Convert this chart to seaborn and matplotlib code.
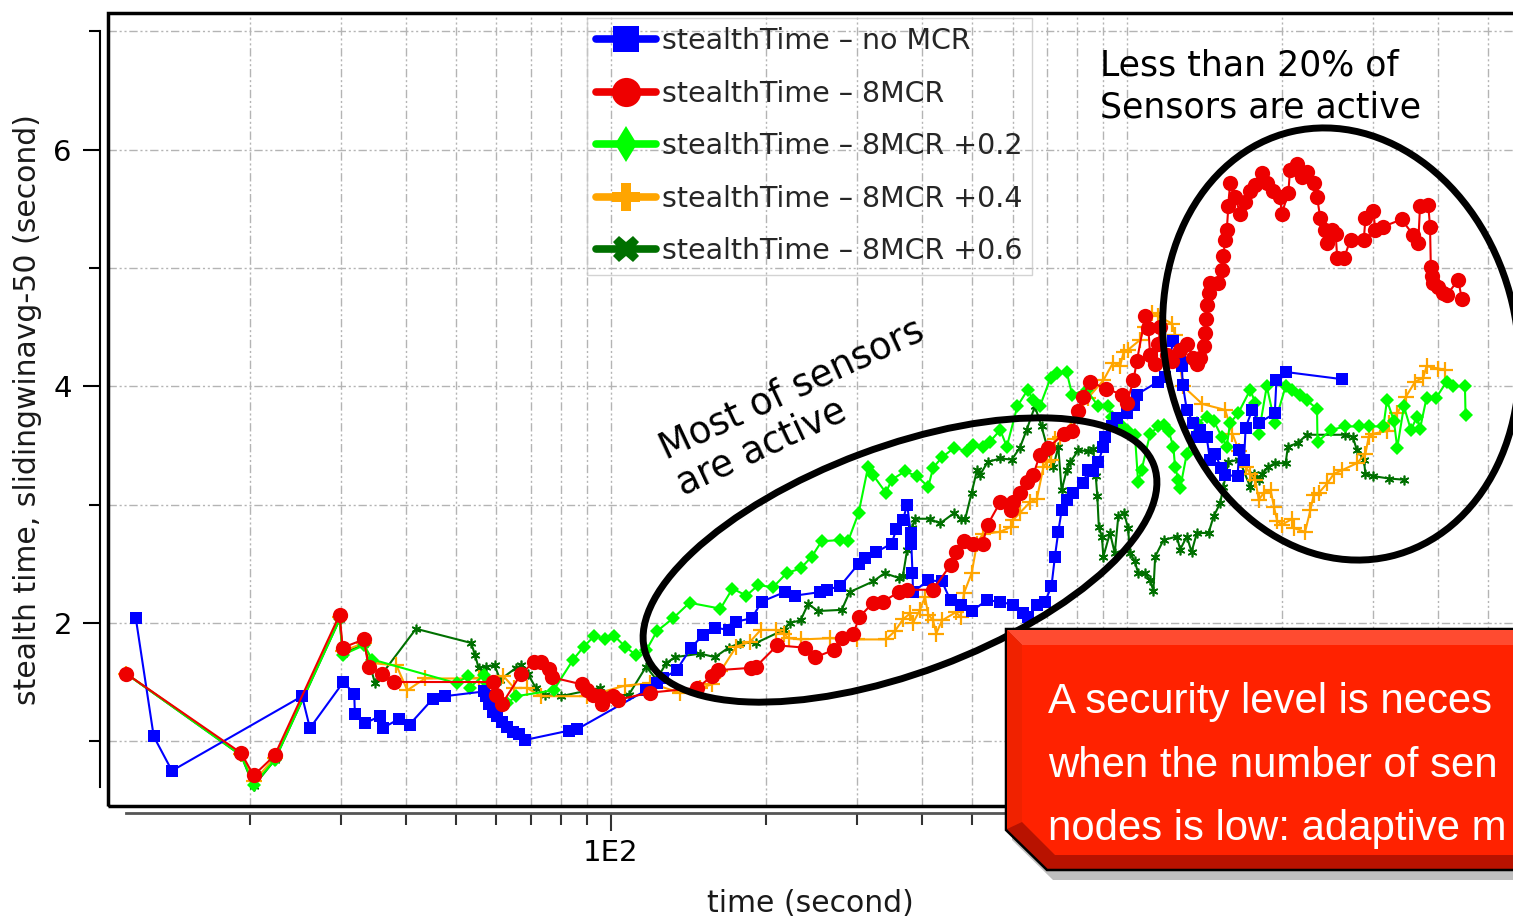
import numpy as np
import matplotlib
matplotlib.use("Agg")
import matplotlib.pyplot as plt
import seaborn as sns
from matplotlib.lines import Line2D
from matplotlib.patches import Ellipse, Polygon, Rectangle
from matplotlib.ticker import FixedLocator, FixedFormatter, NullFormatter

# ---------------- data (time in seconds, stealth time in seconds) ----------------
t_blue = [12.0, 13.0, 14.1, 25.2, 26.1, 30.3, 31.8, 31.9, 33.3, 35.6, 36.1, 38.9, 40.7, 45.2, 47.6,
          56.7, 57.3, 58.1, 59.1, 60.1, 61.6, 62.9, 64.5, 66.2, 68.1, 83.1, 85.9, 117, 123, 126, 134,
          143, 151, 159, 169, 175, 187.5, 196, 217, 227, 254, 262, 278, 302, 311, 327, 350, 357, 368,
          375, 381, 382, 384, 385, 412, 438, 455, 476, 500, 535, 568, 602, 628, 642, 669, 694, 714,
          725, 736, 747, 764, 787, 822, 841, 860, 880, 900, 907, 935, 956, 1000, 1030, 1045, 1150,
          1185, 1230, 1268, 1277, 1283, 1306, 1345, 1366, 1386, 1427, 1448, 1480, 1524, 1546, 1638,
          1650, 1686, 1698, 1748, 1800, 1934, 1948, 2035, 2610]
v_blue = [2.04, 1.04, 0.75, 1.38, 1.11, 1.50, 1.40, 1.23, 1.15, 1.21, 1.11, 1.19, 1.14, 1.36, 1.38,
          1.42, 1.38, 1.31, 1.25, 1.21, 1.16, 1.12, 1.08, 1.06, 1.01, 1.09, 1.10, 1.43, 1.49, 1.53, 1.60,
          1.79, 1.90, 1.96, 1.94, 2.01, 2.04, 2.18, 2.26, 2.23, 2.26, 2.28, 2.31, 2.50, 2.55, 2.60, 2.67,
          2.79, 2.87, 3.00, 2.76, 2.67, 2.42, 2.26, 2.36, 2.35, 2.19, 2.15, 2.10, 2.19, 2.18, 2.15, 2.08,
          2.05, 2.15, 2.18, 2.31, 2.56, 2.77, 2.95, 3.04, 3.10, 3.18, 3.29, 3.28, 3.36, 3.49, 3.57, 3.66,
          3.73, 3.77, 3.84, 3.93, 4.04, 4.08, 4.38, 4.26, 4.17, 4.01, 3.80, 3.69, 3.57, 3.63, 3.57, 3.38,
          3.43, 3.31, 3.25, 3.24, 3.46, 3.38, 3.65, 3.80, 3.69, 3.77, 4.05, 4.12, 4.06]

t_red = [11.5, 19.2, 20.3, 22.3, 29.8, 30.2, 33.2, 33.9, 36.0, 37.9, 59.2, 59.9, 61.4, 67.0, 70.9,
         73.2, 76.0, 76.8, 87.8, 90, 92.2, 95.2, 96, 100.7, 103, 119, 147, 157, 161, 187, 191, 210,
         238, 249, 270, 280, 295, 303, 322, 337, 361, 375, 421, 455, 466, 483, 502, 525, 537, 568,
         595, 602, 620, 639, 658, 678, 704, 755, 783, 805, 822, 846, 910, 977, 1000, 1029, 1045,
         1084, 1100, 1109, 1134, 1151, 1160, 1195, 1223, 1269, 1306, 1345, 1366, 1386, 1407, 1418,
         1424, 1429, 1439, 1450, 1504, 1527, 1538, 1549, 1561, 1572, 1584, 1620, 1657, 1694, 1733,
         1773, 1826, 1866, 1922, 1980, 1995, 2054, 2070, 2133, 2182, 2232, 2300, 2335, 2370, 2425,
         2444, 2500, 2537, 2556, 2632, 2712, 2877, 2898, 3004, 3027, 3140, 3405, 3586, 3668, 3697,
         3836, 3866, 3880, 3894, 3923, 4011, 4102, 4165, 4386, 4453]
v_red = [1.57, 0.90, 0.71, 0.88, 2.07, 1.79, 1.86, 1.63, 1.57, 1.50, 1.50, 1.39, 1.31, 1.57, 1.67,
         1.67, 1.61, 1.54, 1.48, 1.43, 1.39, 1.38, 1.31, 1.38, 1.35, 1.41, 1.45, 1.55, 1.60, 1.62, 1.63, 1.81,
         1.79, 1.71, 1.77, 1.87, 1.91, 2.05, 2.17, 2.18, 2.26, 2.28, 2.28, 2.49, 2.60, 2.69, 2.67, 2.67, 2.83, 3.02,
         2.95, 3.02, 3.10, 3.19, 3.25, 3.42, 3.48, 3.60, 3.62, 3.79, 3.91, 4.04, 3.98, 3.93, 3.86, 4.05, 4.21,
         4.59, 4.49, 4.26, 4.19, 4.36, 4.50, 4.26, 4.21, 4.31, 4.36, 4.24, 4.19, 4.24, 4.34, 4.45,
         4.57, 4.69, 4.79, 4.87, 4.87, 4.98, 5.10, 5.24, 5.32, 5.52, 5.72, 5.60, 5.46, 5.56, 5.65,
         5.70, 5.80, 5.72, 5.65, 5.60, 5.46, 5.63, 5.83, 5.88, 5.77, 5.81, 5.72, 5.60, 5.42, 5.32,
         5.21, 5.32, 5.29, 5.08, 5.08, 5.24, 5.24, 5.42, 5.48, 5.32, 5.35, 5.41, 5.28, 5.21, 5.52,
         5.53, 5.35, 5.01, 4.93, 4.87, 4.84, 4.79, 4.77, 4.90, 4.74]

t_green = [11.5, 19.2, 20.3, 22.3, 29.8, 30.2, 33.2, 34.5, 50.2, 52.8, 53.2, 56.7, 57.6, 62.9, 65.5,
           77.4, 84.5, 88.6, 92.9, 97.5, 101.5, 106.5, 111.6, 117.1, 122.8, 132, 142, 163, 172, 183,
           193, 206, 219, 233, 245, 256, 278, 288, 302, 315, 322, 341, 350, 371, 392, 412, 421, 438,
           463, 490, 502, 525, 542, 568, 585, 613, 642, 658, 678, 711, 732, 764, 783, 835, 880, 920,
           935, 977, 1006, 1036, 1051, 1067, 1109, 1151, 1177, 1204, 1230, 1239, 1258, 1268, 1306,
           1366, 1428, 1472, 1527, 1561, 1584, 1642, 1733, 1773, 1800, 1866, 1934, 2030, 2092, 2163,
           2230, 2335, 2340, 2484, 2643, 2810, 2940, 3140, 3190, 3290, 3340, 3441, 3550, 3645, 3697,
           3806, 3970, 4165, 4290, 4518, 4530]
v_green = [1.57, 0.88, 0.63, 0.84, 2.03, 1.73, 1.81, 1.69, 1.49, 1.55, 1.45, 1.56, 1.49, 1.32, 1.38,
           1.43, 1.69, 1.80, 1.89, 1.86, 1.89, 1.80, 1.73, 1.77, 1.93, 2.04, 2.17, 2.12, 2.29, 2.23,
           2.32, 2.30, 2.42, 2.46, 2.56, 2.69, 2.70, 2.69, 2.93, 3.32, 3.25, 3.10, 3.21, 3.28, 3.24,
           3.15, 3.31, 3.40, 3.48, 3.45, 3.50, 3.49, 3.53, 3.63, 3.49, 3.83, 3.97, 3.88, 3.83, 4.07,
           4.11, 4.12, 3.93, 3.97, 3.83, 3.83, 3.74, 3.66, 3.62, 3.59, 3.19, 3.29, 3.60, 3.66, 3.67,
           3.62, 3.49, 3.32, 3.21, 3.14, 3.43, 3.69, 3.74, 3.71, 3.57, 3.49, 3.69, 3.77, 3.97, 3.86,
           3.60, 4.00, 3.69, 4.00, 3.97, 3.93, 3.88, 3.81, 3.53, 3.63, 3.66, 3.66, 3.66, 3.66, 3.88,
           3.71, 3.48, 3.83, 3.63, 3.74, 3.64, 3.90, 3.90, 4.04, 4.00, 4.00, 3.76]

t_orange = [11.5, 19.2, 20.3, 22.3, 29.8, 30.2, 33.2, 34.5, 38.4, 40.3, 43.6, 55.4, 61.9, 64.9, 68.7,
            73.2, 90, 106.5, 119, 136, 149, 157, 163, 175, 186, 195, 209, 216, 221, 233, 266, 300,
            341, 355, 368, 380, 385, 397, 406, 412, 421, 427, 438, 466, 476, 483, 500, 512, 525, 568,
            595, 602, 620, 649, 669, 689, 700, 711, 725, 742, 790, 840, 900, 940, 970, 985, 1006,
            1059, 1084, 1120, 1151, 1223, 1239, 1285, 1400, 1550, 1600, 1650, 1698, 1733, 1773,
            1800, 1842, 1899, 1927, 1955, 1996, 2092, 2107, 2214, 2266, 2300, 2355, 2444, 2518, 2610,
            2790, 2898, 2940, 3004, 3190, 3213, 3340, 3471, 3618, 3751, 3806, 4011, 4134]
v_orange = [1.57, 0.89, 0.66, 0.86, 2.05, 1.76, 1.83, 1.66, 1.64, 1.43, 1.53, 1.53, 1.55, 1.45, 1.45,
            1.38, 1.38, 1.47, 1.49, 1.41, 1.45, 1.48, 1.59, 1.80, 1.84, 1.94, 1.94, 1.91, 1.87, 1.86,
            1.87, 1.86, 1.86, 1.93, 2.03, 2.08, 2.00, 2.11, 2.22, 2.07, 2.02, 1.91, 2.02, 2.09, 2.05,
            2.25, 2.42, 2.67, 2.75, 2.77, 2.81, 2.87, 2.93, 3.02, 3.05, 3.32, 3.36, 3.38, 3.55, 3.57,
            3.72, 3.90, 4.05, 4.20, 4.17, 4.29, 4.31, 4.39, 4.50, 4.62, 4.59, 4.53, 4.43, 4.00, 3.85,
            3.80, 3.60, 3.45, 3.32, 3.26, 3.21, 3.04, 3.10, 3.12, 2.98, 2.86, 2.83, 2.88, 2.80, 2.77,
            2.95, 3.08, 3.10, 3.18, 3.26, 3.29, 3.35, 3.43, 3.57, 3.60, 3.62, 3.69, 3.77, 3.91, 4.04,
            4.07, 4.17, 4.15, 4.14]

t_dkgreen = [11.5, 19.2, 20.3, 22.3, 29.8, 30.2, 33.2, 34.9, 41.9, 53.6, 54.5, 55.4, 57.2, 59.5, 61,
             65.5, 67, 69, 71.5, 74.4, 79.9, 95.2, 100.7, 108.2, 117, 122.5, 128, 133, 149, 159, 169,
             178, 191, 216, 222, 233, 241, 252, 280, 290, 322, 339, 361, 368, 375, 383, 389, 415, 434,
             463, 476, 486, 500, 512, 519, 537, 568, 598, 620, 639, 663, 683, 704, 720, 736, 747, 764,
             777, 805, 840, 860, 870, 876, 882, 894, 900, 927, 947, 962, 987, 1005, 1013, 1036, 1051,
             1084, 1109, 1125, 1134, 1177, 1249, 1268, 1306, 1334, 1366, 1439, 1472, 1515, 1538, 1572,
             1650, 1733, 1760, 1800, 1828, 1880, 1934, 2030, 2050, 2143, 2230, 2650, 2740, 2790, 2877,
             2898, 3004, 3222, 3441]
v_dkgreen = [1.57, 0.88, 0.62, 0.84, 2.03, 1.74, 1.82, 1.49, 1.95, 1.83, 1.73, 1.62, 1.63, 1.64, 1.52,
             1.62, 1.64, 1.57, 1.45, 1.39, 1.38, 1.45, 1.39, 1.39, 1.63, 1.52, 1.66, 1.71, 1.74, 1.71, 1.79,
             1.83, 1.83, 1.94, 2.00, 2.02, 2.16, 2.10, 2.11, 2.26, 2.35, 2.42, 2.38, 2.40, 2.62, 2.80, 2.88,
             2.88, 2.84, 2.93, 2.88, 2.88, 3.10, 3.29, 3.25, 3.36, 3.39, 3.38, 3.48, 3.63, 3.83, 3.66, 3.45,
             3.32, 3.49, 3.12, 3.29, 3.36, 3.46, 3.45, 3.47, 3.24, 3.07, 2.81, 2.73, 2.56, 2.76, 2.59, 2.90,
             2.93, 2.80, 2.59, 2.52, 2.42, 2.42, 2.36, 2.27, 2.56, 2.70, 2.73, 2.62, 2.73, 2.60, 2.76, 2.76,
             2.90, 3.01, 3.15, 3.36, 3.38, 3.15, 3.26, 3.21, 3.26, 3.32, 3.35, 3.35, 3.49, 3.52, 3.59, 3.59,
             3.57, 3.46, 3.38, 3.26, 3.24, 3.22, 3.21]

labels = ["stealthTime \u2013 no MCR", "stealthTime \u2013 8MCR", "stealthTime \u2013 8MCR +0.2",
          "stealthTime \u2013 8MCR +0.4", "stealthTime \u2013 8MCR +0.6"]
colors = ["#0000FF", "#EE0000", "#00FF00", "#FFA500", "#007000"]

x_major_ticks = [100]
x_tick_labels = ["1E2"]
x_minor_ticks = [20, 30, 40, 50, 60, 70, 80, 90, 200, 300, 400, 500, 600, 700, 800, 900, 1000,
                 2000, 3000, 4000, 5000, 6000, 7000, 8000, 9000]
y_major_ticks = [2, 4, 6]
y_minor_ticks = [1, 3, 5, 7]

box_lines = ["A security level is neces", "when the number of sen", "nodes is low: adaptive m"]

# ---------------- figure ----------------
sns.set_theme(style="white")
plt.rcParams["font.family"] = ["DejaVu Sans"]

W, H = 1513, 919
fig = plt.figure(figsize=(W / 100, H / 100), dpi=100)
fig.patch.set_facecolor("white")

L, R, T, B = 108, 1643, 13, 806
ax = fig.add_axes([L / W, 1 - B / H, (R - L) / W, (B - T) / H])
ax.set_facecolor("white")
ax.set_xscale("log")

series = [
    (t_dkgreen, v_dkgreen, colors[4], dict(marker=(6, 2, 0), markersize=7, markeredgewidth=1.2), 2),
    (t_orange, v_orange, colors[3], dict(marker="+", markersize=11, markeredgewidth=1.6), 3),
    (t_green, v_green, colors[2], dict(marker="D", markersize=7.5, markeredgewidth=0), 4),
    (t_blue, v_blue, colors[0], dict(marker="s", markersize=9, markeredgewidth=0), 5),
    (t_red, v_red, colors[1], dict(marker="o", markersize=11, markeredgewidth=0), 6),
]
for t, v, c, mk, z in series:
    sns.lineplot(x=t, y=v, color=c, linewidth=1.5, sort=False, estimator=None, ax=ax,
                 zorder=z, markeredgecolor=c, markerfacecolor=c, **mk)

ax.set_xlim(10.6, 10000)
ax.set_ylim(0.452, 7.155)
ax.set_xlabel("")
ax.set_ylabel("")

ax.xaxis.set_major_locator(FixedLocator(x_major_ticks))
ax.xaxis.set_major_formatter(FixedFormatter(x_tick_labels))
ax.xaxis.set_minor_locator(FixedLocator(x_minor_ticks))
ax.xaxis.set_minor_formatter(NullFormatter())
ax.yaxis.set_major_locator(FixedLocator(y_major_ticks))
ax.yaxis.set_minor_locator(FixedLocator(y_minor_ticks))
ax.yaxis.set_minor_formatter(NullFormatter())

ax.grid(True, which="both", color="#b4b4b4", linewidth=1.0,
        linestyle=(0, (6, 2, 1.5, 2, 1.5, 2)))
ax.set_axisbelow(True)

for s in ["top", "right"]:
    ax.spines[s].set_visible(False)
ax.spines["left"].set_position(("outward", 6))
ax.spines["left"].set_bounds(0.613, 7.0)
ax.spines["left"].set_linewidth(1.5)
ax.spines["left"].set_color("black")
ax.spines["bottom"].set_position(("outward", 5))
ax.spines["bottom"].set_bounds(11.5, 10000)
ax.spines["bottom"].set_linewidth(2.0)
ax.spines["bottom"].set_color("#555555")

ax.tick_params(axis="y", which="major", direction="out", length=12, width=1.5, color="black",
               labelsize=21, pad=8, left=True, labelcolor="black")
ax.tick_params(axis="y", which="minor", direction="out", length=8, width=1.5, color="black", left=True)
ax.tick_params(axis="x", which="major", direction="out", length=13, width=1.5, color="#333333",
               labelsize=21, pad=6, bottom=True, labelcolor="black")
ax.tick_params(axis="x", which="minor", direction="out", length=8.5, width=1.5, color="#333333",
               bottom=True)

frame = Rectangle((0, 0), 1, 1, transform=ax.transAxes, fill=False, lw=2.5, ec="black",
                  clip_on=False, zorder=10)
ax.add_artist(frame)

fig.text(28 / W, 1 - 410 / H, "stealth time, slidingwinavg-50 (second)", rotation=90,
         ha="center", va="center", fontsize=21.5, color="#1a1a1a")
fig.text(810 / W, 1 - 903 / H, "time (second)", ha="center", va="center", fontsize=21.5,
         color="#1a1a1a")

# legend
handles = [
    Line2D([], [], color=colors[0], lw=5.5, marker="s", markersize=19, markeredgewidth=0),
    Line2D([], [], color=colors[1], lw=5.5, marker="o", markersize=21, markeredgewidth=0),
    Line2D([], [], color=colors[2], lw=5.5, marker="d", markersize=18, markeredgewidth=0),
    Line2D([], [], color=colors[3], lw=5.5, marker="P", markersize=20, markeredgewidth=0),
    Line2D([], [], color=colors[4], lw=5.5, marker="X", markersize=19, markeredgewidth=0),
]
leg = ax.legend(handles, labels, loc="upper left", bbox_to_anchor=(587 / W, 1 - 18 / H),
                bbox_transform=fig.transFigure, frameon=True, fancybox=False, fontsize=20.5,
                handlelength=2.1, handletextpad=0.2, labelspacing=0.86, borderpad=0.33,
                borderaxespad=0)
leg.get_frame().set_facecolor("none")
leg.get_frame().set_edgecolor("#c8c8c8")
leg.get_frame().set_linewidth(1.0)
leg.set_zorder(20)

# ---------------- annotation overlay (pixel coordinates) ----------------
ov = fig.add_axes([0, 0, 1, 1], zorder=30)
ov.set_xlim(0, W)
ov.set_ylim(H, 0)
ov.axis("off")
ov.patch.set_alpha(0)

ov.add_patch(Ellipse((900, 560), 542, 226, angle=-20.5, fill=False, lw=5, ec="black"))
ov.add_patch(Ellipse((1341, 344), 352, 436, angle=-13, fill=False, lw=5, ec="black"))

comic = ["DejaVu Sans"]
ov.text(666, 460, "Most of sensors", rotation=25, rotation_mode="anchor", ha="left",
        va="baseline", fontsize=26.5, family=comic, color="black")
ov.text(683, 496, "are active", rotation=25, rotation_mode="anchor", ha="left",
        va="baseline", fontsize=26.5, family=comic, color="black")
ov.text(1100, 75, "Less than 20% of", ha="left", va="baseline", fontsize=25, family=comic,
        color="black")
ov.text(1100, 117, "Sensors are active", ha="left", va="baseline", fontsize=25, family=comic,
        color="black")

# red callout box with bevel
ov.add_patch(Polygon([(1012, 636), (1720, 636), (1720, 880), (1053, 880), (1012, 840)],
                     closed=True, fc="#000000", ec="none", alpha=0.25))
ov.add_patch(Polygon([(1006, 629), (1720, 629), (1720, 870), (1047, 870), (1006, 830)],
                     closed=True, fc="#B81200", ec="black", lw=1.8))
ov.add_patch(Polygon([(1007, 630), (1720, 630), (1720, 645), (1022, 645)],
                     closed=True, fc="#FF4B30", ec="none"))
ov.add_patch(Polygon([(1007, 630), (1022, 645), (1022, 822), (1007, 829)],
                     closed=True, fc="#F02200", ec="none"))
ov.add_patch(Polygon([(1022, 645), (1720, 645), (1720, 855), (1055, 855), (1022, 822)],
                     closed=True, fc="#FF2200", ec="none"))

narrow = ["Liberation Sans Narrow", "DejaVu Sans Condensed", "Liberation Sans"]
box_texts = []
for yb, line in zip([713, 777, 840], box_lines):
    box_texts.append(ov.text(1048, yb, line, ha="left", va="baseline", fontsize=37,
                             family=narrow, fontstretch="condensed", color="white"))
# shrink the callout text so that it ends at the right edge of the picture
fig.canvas.draw()
renderer = fig.canvas.get_renderer()
widest = max(tx.get_window_extent(renderer).width for tx in box_texts)
avail = W - 1048 - 6
if widest > avail:
    fs = 37 * avail / widest
    for tx in box_texts:
        tx.set_fontsize(fs)

fig.savefig("out.png", dpi=100, facecolor="white")
